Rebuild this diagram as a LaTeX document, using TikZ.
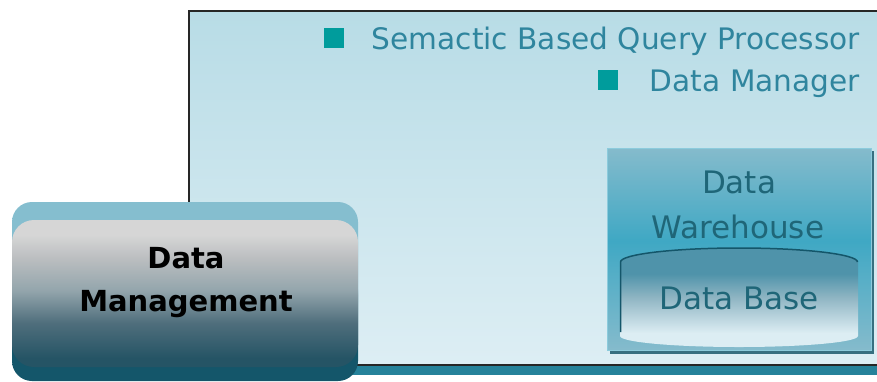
\documentclass[tikz,border=0pt]{standalone}
\usepackage{fontspec}
\setmainfont{DejaVu Sans}
\usepackage{xcolor}
\definecolor{bulletteal}{HTML}{009C9C}
\definecolor{itemtext}{HTML}{2F859E}
\definecolor{boxtext}{HTML}{1F6678}
\definecolor{darkteal}{HTML}{14566A}
\definecolor{midteal}{HTML}{3FA8C4}
\definecolor{paleteal}{HTML}{85BBCC}
\definecolor{barteal}{HTML}{26829A}
\definecolor{paneltop}{HTML}{B8DCE6}
\definecolor{panelbottom}{HTML}{DDEEF4}
\definecolor{drumface}{HTML}{4F93AA}
\definecolor{drumlow}{HTML}{DCEDF3}
\definecolor{drummid}{HTML}{8FB5C3}
\definecolor{outertop}{HTML}{85BECF}
\definecolor{innera}{HTML}{255465}
\definecolor{innerb}{HTML}{4F6E7C}
\definecolor{innerc}{HTML}{93A5AC}
\definecolor{innerd}{HTML}{BBBEC0}
\definecolor{innere}{HTML}{D6D6D6}
\pgfdeclareverticalshading{warehouseshade}{100bp}{color(0bp)=(paleteal); color(25bp)=(paleteal); color(52bp)=(midteal); color(75bp)=(paleteal); color(100bp)=(paleteal)}
\pgfdeclareverticalshading{drumshade}{100bp}{color(0bp)=(drumlow); color(25bp)=(drumlow); color(32bp)=(drumlow); color(50bp)=(drummid); color(62bp)=(drumface); color(75bp)=(drumface); color(100bp)=(drumface)}
\pgfdeclareverticalshading{outershade}{100bp}{color(0bp)=(darkteal); color(49bp)=(darkteal); color(51bp)=(outertop); color(100bp)=(outertop)}
\pgfdeclareverticalshading{innershade}{100bp}{color(0bp)=(innera); color(28bp)=(innera); color(40bp)=(innerb); color(51bp)=(innerc); color(62bp)=(innerd); color(70bp)=(innere); color(100bp)=(innere)}
\tikzset{itemlabel/.style={anchor=east,text=itemtext,inner sep=0pt,font=\fontsize{29.6}{30}\selectfont},
         boxlabel/.style={text=boxtext,font=\fontsize{31}{31}\selectfont},
         mainlabel/.style={text=black,font=\bfseries\fontsize{29}{29}\selectfont},
         bulletbox/.style={fill=bulletteal,draw=none,minimum size=20pt,inner sep=0pt}}
\begin{document}
\begin{tikzpicture}[x=1pt,y=-1pt]
\useasboundingbox (0,0) rectangle (877,381);
% panel behind everything
\fill[barteal] (189,365) rectangle (877,375);
\shade[top color=paneltop,bottom color=panelbottom] (189,11) rectangle (877,365);
\draw[line width=2pt,black!85] (877,11)--(189,11)--(189,210);
\draw[line width=2pt,black!85] (350,365)--(877,365);
% list items
\node[itemlabel] (semantic) at (860,41) {Semactic Based Query Processor};
\node[bulletbox] (semanticmark) at (334,38) {};
\node[itemlabel] (manager) at (860,84) {Data Manager};
\node[bulletbox] (managermark) at (608,80) {};
% warehouse box
\fill[darkteal!85] (610,151) rectangle (874,354);
\shade[shading=warehouseshade] (607,148) rectangle (871,350);
\draw[line width=1pt,midteal!60!white] (607,148) rectangle (871,350);
\node[boxlabel] (data) at (739,182) {Data};
\node[boxlabel] (warehouse) at (738,227) {Warehouse};
% data base drum
\shade[shading=drumshade] (620,262) arc (180:360:119 and 14) -- (858,336) arc (0:180:119 and 11) -- cycle;
\fill[drumface] (739,262) ellipse (119 and 12);
\draw[line width=1.5pt,darkteal] (620.5,332)--(620.5,262) arc (180:360:118.5 and 14);
\node[boxlabel] (database) at (739,298) {Data Base};
% management box
\shade[shading=outershade,rounded corners=20pt] (12,202) rectangle (358,381);
\shade[shading=innershade,rounded corners=22pt] (12,220) rectangle (358,367);
\node[mainlabel] (datamain) at (186,258) {Data};
\node[mainlabel] (management) at (186,304) {Management};
\end{tikzpicture}
\end{document}
